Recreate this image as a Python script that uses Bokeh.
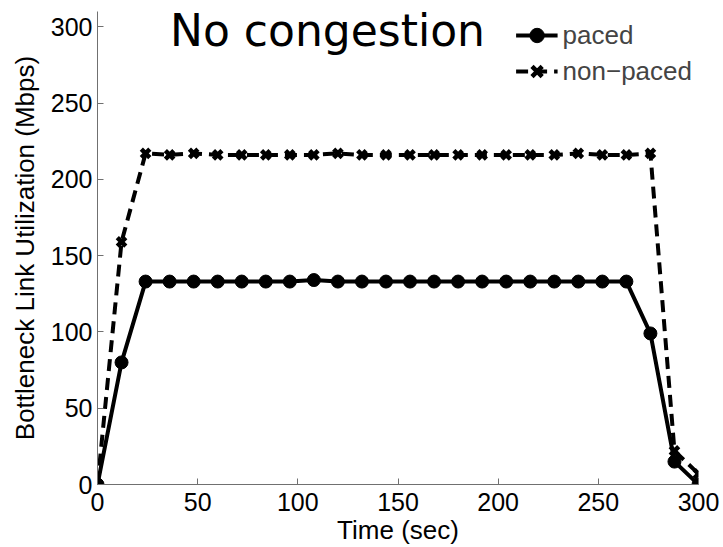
from bokeh.plotting import figure
from bokeh.models import Legend, LegendItem, Label, Range1d, FixedTicker
from bokeh.embed import file_html
from bokeh.resources import INLINE

time_sec = [0, 12, 24, 36, 48, 60, 72, 84, 96, 108, 120, 132, 144, 156, 168,
            180, 192, 204, 216, 228, 240, 252, 264, 276, 288, 300]
paced = [0, 80, 133, 133, 133, 133, 133, 133, 133, 134, 133, 133, 133, 133, 133,
         133, 133, 133, 133, 133, 133, 133, 133, 99, 15, 0]
non_paced = [0, 159, 217, 216, 217, 216, 216, 216, 216, 216, 217, 216, 216, 216, 216,
             216, 216, 216, 216, 216, 217, 216, 216, 217, 22, 7]
x_ticks = [0, 50, 100, 150, 200, 250, 300]
y_ticks = [0, 50, 100, 150, 200, 250, 300]
title_text = "No congestion"
x_label = "Time (sec)"
y_label = "Bottleneck Link Utilization (Mbps)"

W, H = 723, 547
p = figure(width=W, height=H, output_backend="svg", toolbar_location=None,
           x_range=Range1d(0, 300), y_range=Range1d(0, 310),
           min_border_left=97, min_border_right=25, min_border_top=11, min_border_bottom=61)
p.outline_line_color = None
p.grid.visible = False
p.background_fill_color = "white"
p.border_fill_color = "white"

FONT = "Liberation Sans"
for ax, ticks in ((p.xaxis[0], x_ticks), (p.yaxis[0], y_ticks)):
    ax.ticker = FixedTicker(ticks=ticks)
    ax.axis_line_color = "#707070"
    ax.axis_line_width = 1
    ax.major_tick_line_color = "#707070"
    ax.major_tick_in = 6
    ax.major_tick_out = 0
    ax.minor_tick_line_color = None
    ax.major_label_text_font = FONT
    ax.major_label_text_font_size = "25px"
    ax.major_label_text_color = "black"
    ax.axis_label_text_font = FONT
    ax.axis_label_text_font_size = "26px"
    ax.axis_label_text_font_style = "normal"
    ax.axis_label_text_color = "black"

p.xaxis.axis_label = x_label
p.yaxis.axis_label = y_label
p.xaxis.major_label_standoff = 8
p.xaxis.axis_label_standoff = 1
p.xaxis.axis_label_text_line_height = 1.0
p.xaxis.major_label_text_line_height = 1.0
p.yaxis.major_label_standoff = 5
p.yaxis.axis_label_standoff = 8

l1 = p.line(time_sec, paced, line_color="black", line_width=4)
c1 = p.scatter(time_sec, paced, marker="circle", size=13, fill_color="black", line_color="black")
l2 = p.line(time_sec, non_paced, line_color="black", line_width=4, line_dash="12 7")
x2 = p.scatter(time_sec, non_paced, marker="x", size=12, line_color="black", line_width=4.5)

legend = Legend(items=[LegendItem(label="paced", renderers=[l1, c1]),
                       LegendItem(label="non\u2212paced", renderers=[l2, x2])],
                location="top_right", border_line_color=None, background_fill_alpha=0,
                label_text_font=FONT, label_text_font_size="26px",
                glyph_width=42, glyph_height=36, label_height=36, label_standoff=5,
                spacing=0, padding=0, margin=6)
p.add_layout(legend)

p.add_layout(Label(x=114.8, y=297.5, text=title_text, text_align="center",
                   text_baseline="alphabetic", text_font="DejaVu Sans",
                   text_font_size="44px", text_color="black"))

open("out.html", "w").write(file_html(p, INLINE))
